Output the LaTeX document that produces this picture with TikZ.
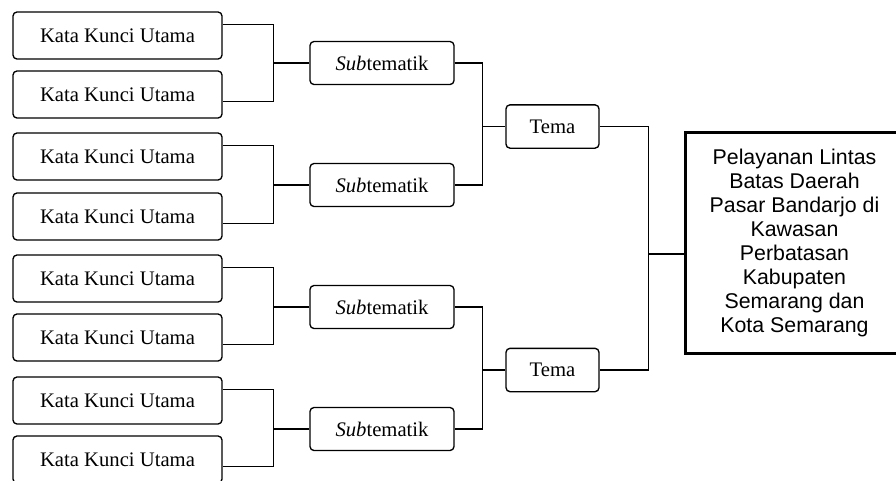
\documentclass[tikz,border=0pt]{standalone}
\usepackage{fontspec}
\setmainfont{Liberation Serif}
\newfontfamily\arialfont{Liberation Sans}
\usepackage{tikz}
\usetikzlibrary{positioning}
\tikzset{
  kwbox/.style={
    draw=black,
    rounded corners=3pt,
    line width=1pt,
    minimum width=156.75pt,
    minimum height=35.25pt,
    inner sep=0pt,
    font=\fontsize{15.5}{18}\selectfont
  },
  subbox/.style={
    kwbox,
    minimum width=108pt,
    minimum height=32.25pt
  },
  temabox/.style={
    kwbox,
    minimum width=69.75pt,
    minimum height=32.5pt
  },
  rootbox/.style={
    draw=black,
    line width=2.25pt,
    minimum width=164.25pt,
    minimum height=165.75pt,
    align=center,
    font=\arialfont\fontsize{16}{18}\selectfont
  },
  bracket/.style={
    draw=black,
    line width=1pt
  }
}

\begin{document}
\begin{tikzpicture}[x=0.75pt,y=-0.75pt]
  \useasboundingbox[fill=white] (0,0) rectangle (896,480);
  % kata kunci
  \foreach \i/\y in {1/35.5,2/94.5,3/156.5,4/216.5,5/278.5,6/337.5,7/400.5,8/459.5}{
    \node[kwbox] (kw\i) at (117.5,\y) {Kata Kunci Utama};
  }
  % subtematik
  \foreach \i/\y in {1/63,2/185,3/307,4/429}{
    \node[subbox] (sub\i) at (382,\y) {\textit{Sub}tematik};
  }
  \node[temabox] (tema1) at (552.5,126.5) {Tema};
  \node[temabox] (tema2) at (552.5,370) {Tema};
  \node[rootbox] (root) at (794.5,242.5) {Pelayanan Lintas\\Batas Daerah\\Pasar Bandarjo di\\Kawasan\\Perbatasan\\Kabupaten\\Semarang dan\\Kota Semarang};
  % brackets
  \foreach \i/\a/\b in {1/1/2,2/3/4,3/5/6,4/7/8}{
    \path (sub\i.west) -- +(-36,0) coordinate (j\i);
    \draw[bracket] ([yshift=8.25pt]kw\a.east) -| (j\i) |- ([yshift=-5.25pt]kw\b.east);
    \draw[bracket] (j\i) -- (sub\i);
  }
  \foreach \t/\a/\b in {1/1/2,2/3/4}{
    \path (tema\t.west) -- +(-23,0) coordinate (t\t);
    \draw[bracket] (sub\a.east) -| (t\t) |- (sub\b.east);
    \draw[bracket] (t\t) -- (tema\t);
  }
  \path ([yshift=-8.5pt]root.west) -- +(-35,0) coordinate (m);
  \draw[bracket] (tema1.east) -| (m) |- (tema2.east);
  \draw[bracket] (m) -- ([yshift=-8.5pt]root.west);
\end{tikzpicture}
\end{document}
